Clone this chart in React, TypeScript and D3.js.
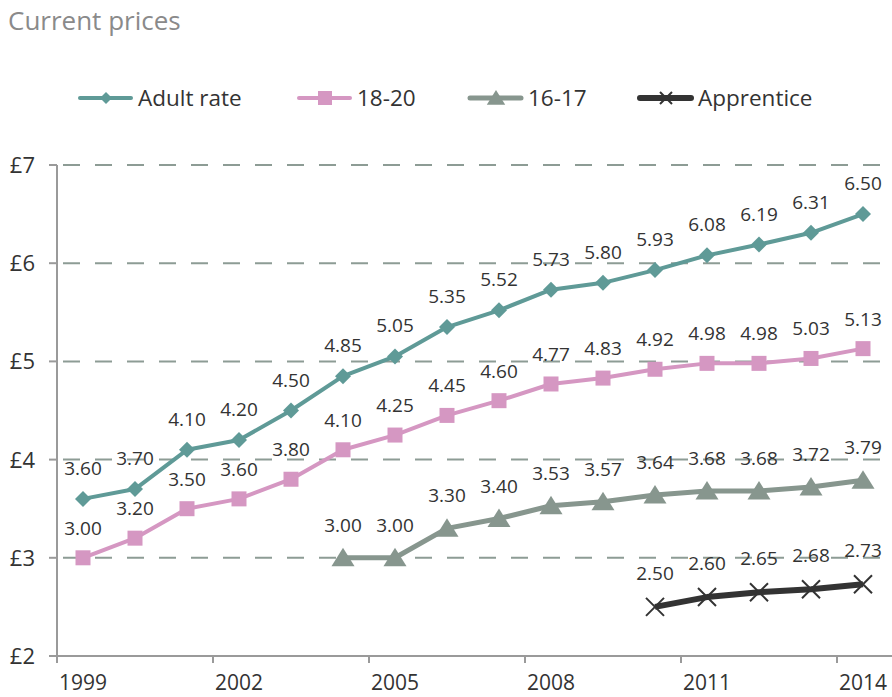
import React from 'react';
import * as d3 from 'd3';

// minimum wage rates by year, current prices (£ per hour)
const years = ['1999', '2000', '2001', '2002', '2003', '2004', '2005', '2006', '2007', '2008', '2009', '2010', '2011', '2012', '2013', '2014'];
const tickYears = ['1999', '2002', '2005', '2008', '2011', '2014'];
const yTicks = [2, 3, 4, 5, 6, 7];

const adultRate = [3.6, 3.7, 4.1, 4.2, 4.5, 4.85, 5.05, 5.35, 5.52, 5.73, 5.8, 5.93, 6.08, 6.19, 6.31, 6.5];
const rate1820 = [3.0, 3.2, 3.5, 3.6, 3.8, 4.1, 4.25, 4.45, 4.6, 4.77, 4.83, 4.92, 4.98, 4.98, 5.03, 5.13];
const years1617 = ['2004', '2005', '2006', '2007', '2008', '2009', '2010', '2011', '2012', '2013', '2014'];
const rate1617 = [3.0, 3.0, 3.3, 3.4, 3.53, 3.57, 3.64, 3.68, 3.68, 3.72, 3.79];
const yearsApp = ['2010', '2011', '2012', '2013', '2014'];
const rateApp = [2.5, 2.6, 2.65, 2.68, 2.73];

const W = 892;
const H = 697;
const FONT = '"Open Sans", sans-serif';
const margin = { top: 165, right: 3, bottom: 41, left: 57 };

type Marker = 'diamond' | 'square' | 'triangle' | 'cross';

const series = [
  { name: 'Adult rate', yrs: years, vals: adultRate, color: '#5f9a97', width: 4, marker: 'diamond' as Marker, labelDy: -24 },
  { name: '18-20', yrs: years, vals: rate1820, color: '#d597c2', width: 4, marker: 'square' as Marker, labelDy: -23 },
  { name: '16-17', yrs: years1617, vals: rate1617, color: '#87968e', width: 5, marker: 'triangle' as Marker, labelDy: -26 },
  { name: 'Apprentice', yrs: yearsApp, vals: rateApp, color: '#333333', width: 6, marker: 'cross' as Marker, labelDy: -27 },
];

const legendX = [78, 297, 468, 638];

function MarkerShape({ type, color, cx, cy, s }: { type: Marker; color: string; cx: number; cy: number; s: number }) {
  if (type === 'diamond') {
    return <path d={`M${cx},${cy - s}L${cx + s},${cy}L${cx},${cy + s}L${cx - s},${cy}Z`} fill={color} />;
  }
  if (type === 'square') {
    return <rect x={cx - s} y={cy - s} width={s * 2} height={s * 2} fill={color} />;
  }
  if (type === 'triangle') {
    return <path d={`M${cx},${cy - s}L${cx + s * 1.15},${cy + s * 0.85}L${cx - s * 1.15},${cy + s * 0.85}Z`} fill={color} />;
  }
  return (
    <path
      d={`M${cx - s},${cy - s}L${cx + s},${cy + s}M${cx - s},${cy + s}L${cx + s},${cy - s}`}
      stroke={color}
      strokeWidth={2}
      fill="none"
    />
  );
}

const markerSize: Record<Marker, number> = { diamond: 8, square: 7.5, triangle: 10, cross: 9 };
const legendMarkerSize: Record<Marker, number> = { diamond: 6, square: 7, triangle: 8, cross: 6 };

export default function App() {
  const x = d3.scaleBand<string>().domain(years).range([margin.left, margin.left + 16 * 52]).padding(0);
  const y = d3.scaleLinear().domain([2, 7]).range([H - margin.bottom, margin.top]);
  const cx = (yr: string) => (x(yr) as number) + x.bandwidth() / 2;
  const line = d3.line<[string, number]>().x(d => cx(d[0])).y(d => y(d[1]));

  return (
    <svg width={W} height={H} style={{ position: 'absolute', left: 0, top: 0, background: '#fff' }} fontFamily={FONT}>
      <text x={8} y={30} fontSize={26} fill="#8a8a8a">Current prices</text>

      {/* legend */}
      {series.map((s, i) => (
        <g key={s.name} transform={`translate(${legendX[i]},98)`}>
          <line x1={2} x2={53} y1={0} y2={0} stroke={s.color} strokeWidth={s.width} strokeLinecap="round" />
          <MarkerShape type={s.marker} color={s.color} cx={28} cy={0} s={legendMarkerSize[s.marker]} />
          <text x={60} y={8} fontSize={22.5} fill="#333">{s.name}</text>
        </g>
      ))}

      {/* grid */}
      {yTicks.filter(t => t > 2).map(t => (
        <line key={t} x1={margin.left} x2={W} y1={y(t)} y2={y(t)} stroke="#8d9c95" strokeWidth={2} strokeDasharray="17 15" strokeDashoffset={-6} />
      ))}
      {yTicks.map(t => (
        <g key={'yt' + t}>
          <line x1={margin.left - 8} x2={margin.left} y1={y(t)} y2={y(t)} stroke="#9a9a9a" strokeWidth={2} />
          <text x={35} y={y(t) + 8} fontSize={22} textAnchor="end" fill="#333">£{t}</text>
        </g>
      ))}
      <line x1={margin.left} x2={margin.left} y1={y(7)} y2={y(2)} stroke="#9a9a9a" strokeWidth={2} />
      <line x1={margin.left} x2={W} y1={y(2)} y2={y(2)} stroke="#9a9a9a" strokeWidth={2} />
      {tickYears.map(t => (
        <g key={t}>
          <line x1={x(t) as number} x2={x(t) as number} y1={y(2)} y2={y(2) + 7} stroke="#9a9a9a" strokeWidth={2} />
          <text x={cx(t)} y={690} fontSize={21} textAnchor="middle" fill="#333">{t}</text>
        </g>
      ))}

      {/* series */}
      {series.map(s => {
        const pts = s.yrs.map((yr, i) => [yr, s.vals[i]] as [string, number]);
        return (
          <g key={s.name}>
            <path d={line(pts) as string} fill="none" stroke={s.color} strokeWidth={s.width} strokeLinejoin="round" />
            {pts.map(p => (
              <MarkerShape key={p[0]} type={s.marker} color={s.color} cx={cx(p[0])} cy={y(p[1])} s={markerSize[s.marker]} />
            ))}
            {pts.map(p => (
              <text key={'l' + p[0]} x={cx(p[0])} y={y(p[1]) + s.labelDy} fontSize={19} textAnchor="middle" fill="#333">
                {p[1].toFixed(2)}
              </text>
            ))}
          </g>
        );
      })}
    </svg>
  );
}
